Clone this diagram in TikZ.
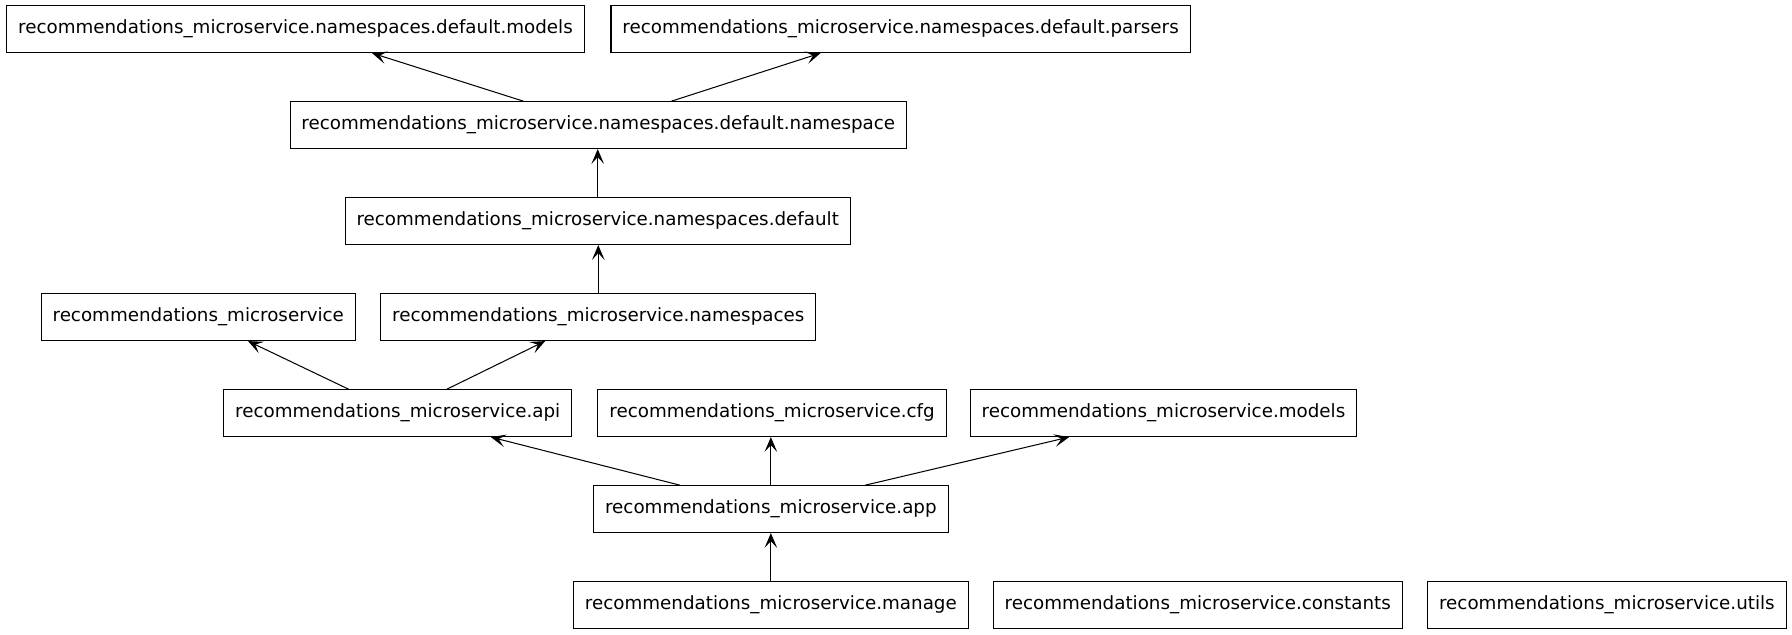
\documentclass[tikz,border=0pt]{standalone}
\usepackage{fontspec}
\setmainfont{DejaVu Sans}
\usetikzlibrary{arrows.meta}
\tikzset{
  module/.style={
    rectangle,
    draw=black,
    line width=.9pt,
    minimum height=41pt,
    inner xsep=10pt,
    inner ysep=0,
    font=\fontsize{16}{19}\selectfont,
  },
  dep/.style={
    line width=.9pt,
    -{Stealth[length=13pt,width=11pt,inset=6pt]},
  },
}

\begin{document}
\begin{tikzpicture}[x=1pt,y=-1pt]
  \useasboundingbox (0,0) rectangle (1568,555.6);

  % top rows
  \node[module] at (258.5,25.5) (dmodels) {recommendations\_microservice.namespaces.default.models};
  \node[module] at (788,25.5) (dparsers) {recommendations\_microservice.namespaces.default.parsers};
  \node[module] at (523.5,109.5) (dnamespace) {recommendations\_microservice.namespaces.default.namespace};
  \node[module] at (523,193.5) (default) {recommendations\_microservice.namespaces.default};
  \node[module] at (173.5,277.5) (rm) {recommendations\_microservice};
  \node[module] at (523.5,277.5) (namespaces) {recommendations\_microservice.namespaces};

  % bottom rows
  \node[module] at (348,361.5) (api) {recommendations\_microservice.api};
  \node[module] at (675.5,361.5) (cfg) {recommendations\_microservice.cfg};
  \node[module] at (1018,361.5) (models) {recommendations\_microservice.models};
  \node[module] at (674.5,445.5) (app) {recommendations\_microservice.app};
  \node[module] at (674.5,529.5) (manage) {recommendations\_microservice.manage};
  \node[module] at (1048,529.5) (constants) {recommendations\_microservice.constants};
  \node[module] at (1406,529.5) (utils) {recommendations\_microservice.utils};

  % imports
  \draw[dep] ([xshift=-65.5pt]dnamespace.north) -- ([xshift=67pt]dmodels.south);
  \draw[dep] ([xshift=64pt]dnamespace.north) -- ([xshift=-70pt]dparsers.south);
  \draw[dep] (default.north) -- (default.north |- dnamespace.south);
  \draw[dep] (namespaces.north) -- (namespaces.north |- default.south);
  \draw[dep] ([xshift=-43pt]api.north) -- ([xshift=43.5pt]rm.south);
  \draw[dep] ([xshift=43pt]api.north) -- ([xshift=-46.5pt]namespaces.south);
  \draw[dep] ([xshift=-79.5pt]app.north) -- ([xshift=81.5pt]api.south);
  \draw[dep] (app.north) -- (app.north |- cfg.south);
  \draw[dep] ([xshift=82.5pt]app.north) -- ([xshift=-82.5pt]models.south);
  \draw[dep] (manage.north) -- (manage.north |- app.south);
\end{tikzpicture}
\end{document}
